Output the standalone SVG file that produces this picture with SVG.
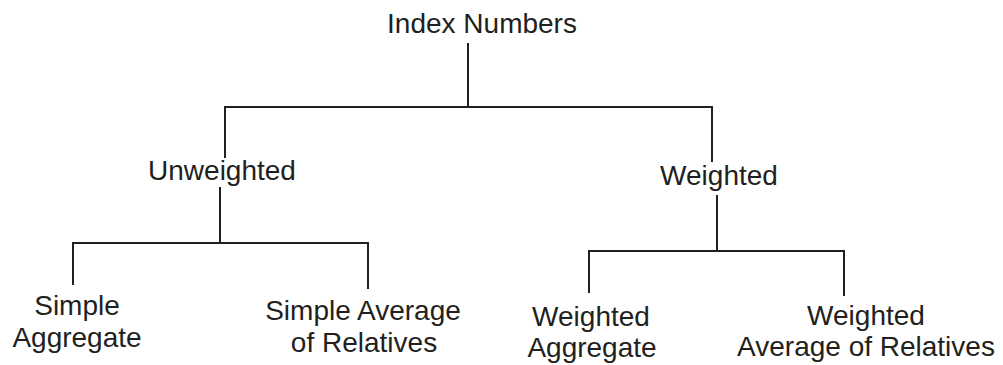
<svg xmlns="http://www.w3.org/2000/svg" width="1003" height="365" viewBox="0 0 1003 365">
  <style>
    .label { font-family: "Liberation Sans", Arial, sans-serif; font-size: 28px; fill: #231f20; text-anchor: middle; }
    .link { fill: none; stroke: #231f20; stroke-width: 2; }
  </style>
  <rect width="1003" height="365" fill="#ffffff"/>

  <!-- tree connectors -->
  <g id="connectors">
    <path class="link" d="M468,43 V107"/>
    <path class="link" d="M225,158 V107 H712 V162"/>
    <path class="link" d="M220,187 V243"/>
    <path class="link" d="M73,285 V243 H368 V289"/>
    <path class="link" d="M717,195 V251"/>
    <path class="link" d="M589,293 V251 H844 V296"/>
  </g>

  <g id="node-index-numbers">
    <text class="label" x="482" y="33">Index Numbers</text>
  </g>
  <g id="node-unweighted">
    <text class="label" x="222" y="180">Unweighted</text>
  </g>
  <g id="node-weighted">
    <text class="label" x="719" y="185">Weighted</text>
  </g>
  <g id="node-simple-aggregate">
    <text class="label" x="77" y="315">Simple</text>
    <text class="label" x="77" y="347">Aggregate</text>
  </g>
  <g id="node-simple-average">
    <text class="label" x="363" y="320">Simple Average</text>
    <text class="label" x="364" y="352">of Relatives</text>
  </g>
  <g id="node-weighted-aggregate">
    <text class="label" x="591" y="326">Weighted</text>
    <text class="label" x="592" y="357">Aggregate</text>
  </g>
  <g id="node-weighted-average">
    <text class="label" x="866" y="325">Weighted</text>
    <text class="label" x="866" y="356">Average of Relatives</text>
  </g>
</svg>
